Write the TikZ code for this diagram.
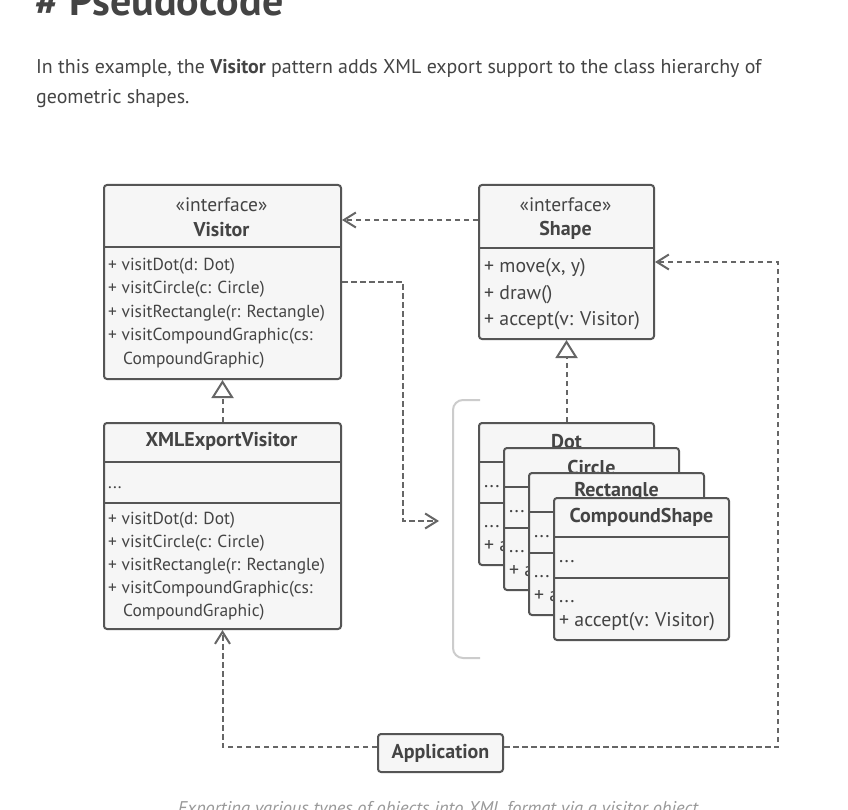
\documentclass[tikz,border=0pt]{standalone}
\usepackage{fontspec}
\setmainfont{PT Sans}
\usetikzlibrary{arrows.meta,calc}
\definecolor{txt}{HTML}{444444}
\definecolor{edge}{HTML}{555555}
\definecolor{conn}{HTML}{666666}
\definecolor{boxbg}{HTML}{F6F6F6}
\definecolor{brk}{HTML}{CCCCCC}
\definecolor{capc}{HTML}{999999}
\newcommand{\fsz}[1]{\fontsize{#1}{#1}\selectfont}
\begin{document}
\begin{tikzpicture}[x=1pt,y=-1pt,
  umlbox/.style={draw=edge, line width=2pt, fill=boxbg, rounded corners=3pt, anchor=north west, inner sep=0pt},
  divider/.style={draw=edge, line width=2pt},
  mtext/.style={anchor=west, inner sep=0pt, text=txt, font=\fsz{17.4}, text height=12pt, text depth=3.5pt},
  mtextb/.style={anchor=west, inner sep=0pt, text=txt, font=\fsz{19.8}, text height=13.5pt, text depth=4pt},
  hdr/.style={inner sep=0pt, text=txt, font=\fsz{19.5}},
  ttl/.style={inner sep=0pt, text=txt, font=\bfseries\fsz{20}},
  dep/.style={draw=conn, line width=2pt, dash pattern=on 5.5pt off 3.5pt, -{Straight Barb[length=12pt,width=15pt,line width=2pt]}},
  impl/.style={draw=conn, line width=2pt, dash pattern=on 5.5pt off 3.5pt, -{Triangle[open,fill=white,length=18pt,width=22pt,line width=2pt]}}
]
\useasboundingbox (0,0) rectangle (848,810);
\fill[white] (0,0) rectangle (848,810);

% header texts
\node[anchor=base west, inner sep=0pt, font=\bfseries\fsz{42}, text=txt] (title) at (35,16) {\# Pseudocode};
\node[anchor=base west, inner sep=0pt, font=\fsz{19.9}, text=txt] (p1) at (36,74) {In this example, the \textbf{Visitor} pattern adds XML export support to the class hierarchy of};
\node[anchor=base west, inner sep=0pt, font=\fsz{19.9}, text=txt] (p2) at (36,104) {geometric shapes.};

% bracket
\draw[brk, line width=2pt, rounded corners=10pt] (480,400) -- (453,400) -- (453,658) -- (480,658);

% Visitor
\node[umlbox, minimum width=237pt, minimum height=194pt] (visitor) at (103,184) {};
\draw[divider] ($(visitor.north west)+(0,63)$) -- ($(visitor.north east)+(0,63)$);
\node[hdr] (vst) at (221.5,205) {«interface»};
\node[ttl] (vnm) at (221.5,230) {Visitor};
\node[mtext] (v1) at (108,266) {+ visitDot(d: Dot)};
\node[mtext] (v2) at (108,289.5) {+ visitCircle(c: Circle)};
\node[mtext] (v3) at (108,313) {+ visitRectangle(r: Rectangle)};
\node[mtext] (v4) at (108,336.5) {+ visitCompoundGraphic(cs:};
\node[mtext] (v5) at (123,360) {CompoundGraphic)};

% Shape
\node[umlbox, minimum width=175pt, minimum height=154pt] (shape) at (478,184) {};
\draw[divider] ($(shape.north west)+(0,64)$) -- ($(shape.north east)+(0,64)$);
\node[hdr] (sst) at (565.5,205) {«interface»};
\node[ttl] (snm) at (565.5,230) {Shape};
\node[mtextb] (s1) at (484,268) {+ move(x, y)};
\node[mtextb] (s2) at (484,294.5) {+ draw()};
\node[mtextb] (s3) at (484,321) {+ accept(v: Visitor)};

% XMLExportVisitor
\node[umlbox, minimum width=237pt, minimum height=206pt] (xml) at (103,422) {};
\draw[divider] ($(xml.north west)+(0,40)$) -- ($(xml.north east)+(0,40)$);
\draw[divider] ($(xml.north west)+(0,81)$) -- ($(xml.north east)+(0,81)$);
\node[ttl] (xnm) at (221.5,441) {XMLExportVisitor};
\node[mtext] (x0) at (108,484) {...};
\node[mtext] (x1) at (108,520.5) {+ visitDot(d: Dot)};
\node[mtext] (x2) at (108,543.5) {+ visitCircle(c: Circle)};
\node[mtext] (x3) at (108,566.5) {+ visitRectangle(r: Rectangle)};
\node[mtext] (x4) at (108,589.5) {+ visitCompoundGraphic(cs:};
\node[mtext] (x5) at (123,612) {CompoundGraphic)};

% stacked concrete shapes
\foreach \nm/\tl/\i in {dot/Dot/0, circ/Circle/1, rect/Rectangle/2, comp/CompoundShape/3}{
  \pgfmathsetmacro{\ox}{478+25*\i}
  \pgfmathsetmacro{\oy}{422+25*\i}
  \node[umlbox, minimum width=175pt, minimum height=142pt] (\nm) at (\ox,\oy) {};
  \draw[divider] ($(\nm.north west)+(0,40)$) -- ($(\nm.north east)+(0,40)$);
  \draw[divider] ($(\nm.north west)+(0,81)$) -- ($(\nm.north east)+(0,81)$);
  \node[ttl] (\nm-t) at ($(\nm.north)+(0,20)$) {\tl};
  \node[mtextb] (\nm-a) at ($(\nm.north west)+(6,61)$) {...};
  \node[mtextb] (\nm-b) at ($(\nm.north west)+(6,101)$) {...};
  \node[mtextb] (\nm-c) at ($(\nm.north west)+(6,125)$) {+ accept(v: Visitor)};
}

% Application
\node[umlbox, anchor=center, minimum width=125pt, minimum height=38pt, font=\bfseries\fsz{20}, text=txt] (app) at (440.5,753) {Application};

% connectors
\coordinate (bend) at (403,521);
\coordinate (grp) at (439,521);
\coordinate (rc) at (778,262);
\draw[dep] ($(shape.north west)+(0,36)$) -- ($(visitor.north east)+(0,36)$);
\draw[dep] ($(visitor.north east)+(0,98)$) -| (bend) -- (grp);
\draw[impl] (xml.north) -- (visitor.south);
\draw[impl] (dot.north) -- (shape.south);
\draw[dep] ($(app.west)+(0,-6)$) -| (xml.south);
\draw[dep] ($(app.east)+(0,-6)$) -| (rc) -- ($(shape.north east)+(0,78)$);

% caption
\node[anchor=base, inner sep=0pt, font=\itshape\fsz{18.4}, text=capc] (caption) at (440,814) {Exporting various types of objects into XML format via a visitor object.};
\end{tikzpicture}
\end{document}
